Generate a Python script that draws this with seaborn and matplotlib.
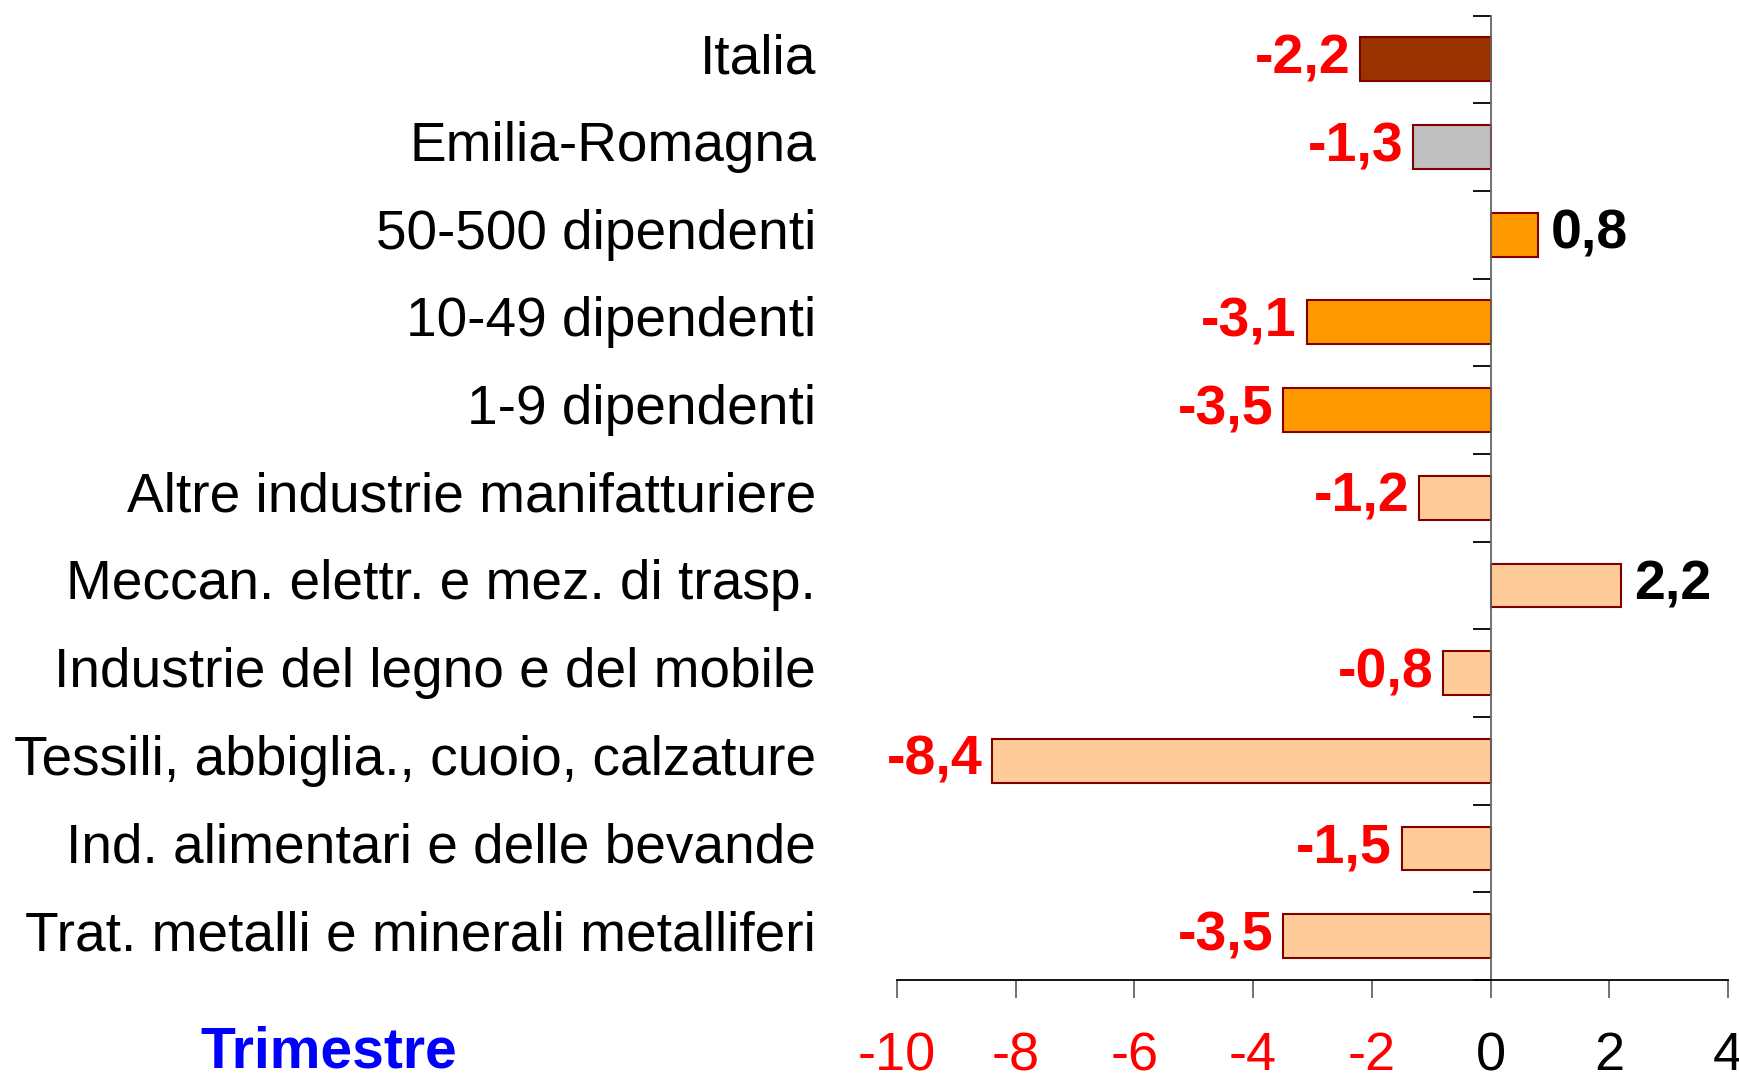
import numpy as np
import pandas as pd
import matplotlib
matplotlib.use("Agg")
import matplotlib.pyplot as plt
import matplotlib.transforms as mtransforms
import seaborn as sns

categories = [
    "Italia",
    "Emilia-Romagna",
    "50-500 dipendenti",
    "10-49 dipendenti",
    "1-9 dipendenti",
    "Altre industrie manifatturiere",
    "Meccan. elettr. e mez. di trasp.",
    "Industrie del legno e del mobile",
    "Tessili, abbiglia., cuoio, calzature",
    "Ind. alimentari e delle bevande",
    "Trat. metalli e minerali metalliferi",
]
values = [-2.2, -1.3, 0.8, -3.1, -3.5, -1.2, 2.2, -0.8, -8.4, -1.5, -3.5]
bar_colors = ["#993300", "#C0C0C0", "#FF9900", "#FF9900", "#FF9900",
              "#FFCC99", "#FFCC99", "#FFCC99", "#FFCC99", "#FFCC99", "#FFCC99"]
x_ticks = [-10, -8, -6, -4, -2, 0, 2, 4]

df = pd.DataFrame({"categoria": categories, "valore": values})

sns.set_style("white")
plt.rcParams["font.family"] = ["Liberation Sans", "DejaVu Sans"]

fig = plt.figure(figsize=(17.4, 10.84), dpi=100)
ax = fig.add_axes([0.5155, 0.0959, 0.9931 - 0.5155, 0.9857 - 0.0959])

sns.barplot(data=df, y="categoria", x="valore", hue="categoria",
            palette=bar_colors, saturation=1, legend=False, orient="h",
            width=0.5, edgecolor="#800000", linewidth=1.5, ax=ax)

ax.set_xlim(-10, 4)
ax.set_ylim(len(categories) - 0.5, -0.5)
ax.set_xlabel("")
ax.set_ylabel("")

# axes / spines
for s in ["top", "right"]:
    ax.spines[s].set_visible(False)
ax.spines["left"].set_position(("data", 0))
ax.spines["left"].set_color("#666666")
ax.spines["left"].set_linewidth(1.3)
ax.spines["bottom"].set_color("black")
ax.spines["bottom"].set_linewidth(1.3)

ax.set_yticks(np.arange(-0.5, len(categories), 1.0))
ax.set_yticklabels([])
ax.tick_params(axis="y", left=True, direction="out", length=13, width=1.3,
               color="black")

ax.set_xticks(x_ticks)
ax.set_xticklabels([str(t) for t in x_ticks])
ax.tick_params(axis="x", bottom=True, direction="out", length=13, width=1.3,
               color="#666666", pad=24, labelsize=39)
for lab, t in zip(ax.get_xticklabels(), x_ticks):
    lab.set_color("red" if t < 0 else "black")

# category labels on the left
trans = mtransforms.blended_transform_factory(fig.transFigure, ax.transData)
for i, cat in enumerate(categories):
    ax.text(0.469, i, cat, transform=trans, ha="right", va="center",
            fontsize=39.6, color="black")

# value labels
for i, v in enumerate(values):
    txt = f"{v:.1f}".replace(".", ",")
    if v < 0:
        ax.annotate(txt, (v, i), xytext=(-7, 0), textcoords="offset points",
                    ha="right", va="center", fontsize=40, fontweight="bold",
                    color="red")
    else:
        ax.annotate(txt, (v, i), xytext=(9, 0), textcoords="offset points",
                    ha="left", va="center", fontsize=40, fontweight="bold",
                    color="black")

fig.text(329 / 1740, 1 - 1052 / 1084, "Trimestre", ha="center", va="center",
         fontsize=41, fontweight="bold", color="blue")

fig.savefig("out.png", dpi=100)
